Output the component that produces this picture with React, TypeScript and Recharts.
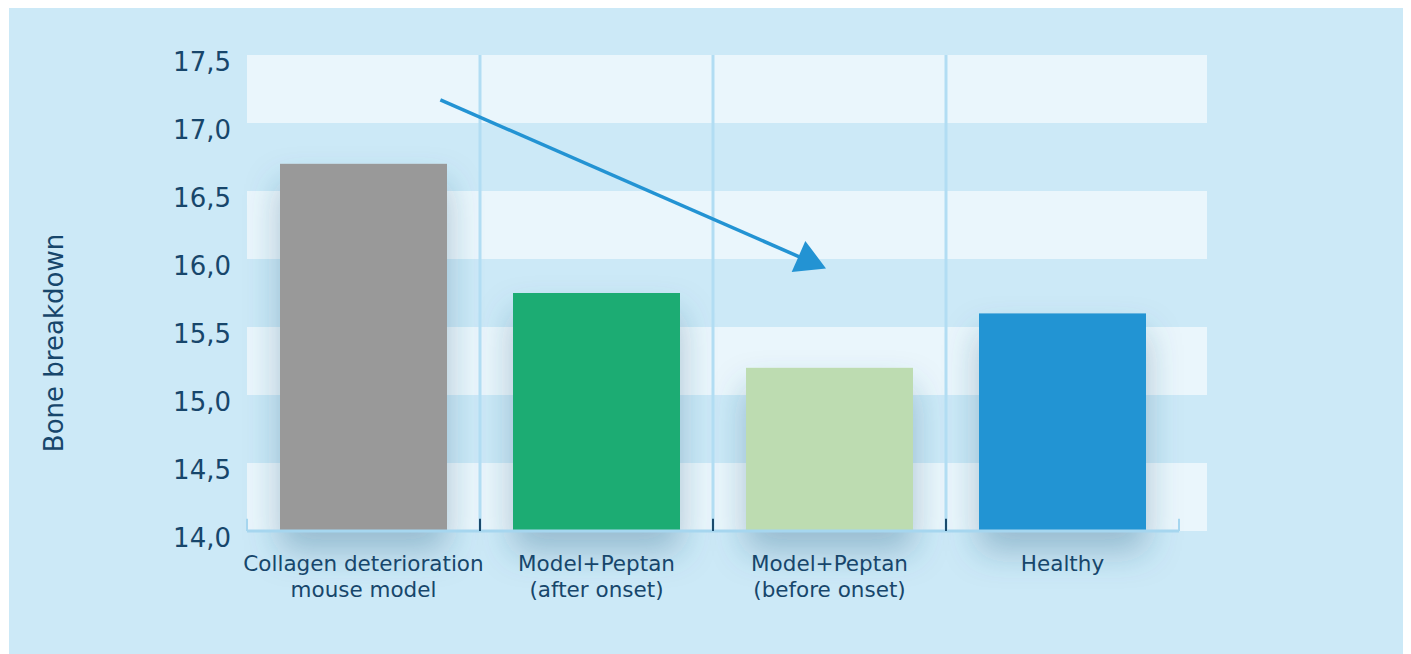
import React from 'react'
import { BarChart, Bar, XAxis, YAxis, CartesianGrid, ReferenceLine, Cell } from 'recharts'

const categories = [
  'Collagen deterioration\nmouse model',
  'Model+Peptan\n(after onset)',
  'Model+Peptan\n(before onset)',
  'Healthy',
]
const values = [16.7, 15.75, 15.2, 15.6]
const barColors = ['#999999', '#1fac73', '#bddcb1', '#2394d3']
const yTicks = [14, 14.5, 15, 15.5, 16, 16.5, 17, 17.5]
const separators = [1, 2, 3]
// trend arrow, in (category-slot, value) units
const arrowFrom = { x: 0.83, y: 17.17 }
const arrowTo = { x: 2.485, y: 15.93 }

// slot = centre of each category in slot units, used by the helper number axis
const data = categories.map((name, i) => ({ name, value: values[i], slot: i + 0.5 }))

const textColor = '#17466b'
const font = '"DejaVu Sans", Verdana, sans-serif'

const YTick = (props: any) => {
  const { x, y, payload } = props
  return (
    <text x={x} y={y} dy={16} textAnchor="end" fill={textColor} fontSize={26} fontFamily={font}>
      {payload.value.toFixed(1).replace('.', ',')}
    </text>
  )
}

const XTick = (props: any) => {
  const { x, y, payload } = props
  const lines = String(payload.value).split('\n')
  return (
    <text x={x} y={y} textAnchor="middle" fill={textColor} fontSize={21.5} fontFamily={font}>
      {lines.map((l, i) => (
        <tspan key={i} x={x} dy={i === 0 ? 40 : 26}>
          {l}
        </tspan>
      ))}
    </text>
  )
}

const YLabel = (props: any) => {
  const { viewBox } = props
  const cx = viewBox.x + 45
  const cy = viewBox.y + viewBox.height / 2 + 50
  return (
    <text
      x={cx}
      y={cy}
      transform={`rotate(-90 ${cx} ${cy})`}
      textAnchor="middle"
      dominantBaseline="central"
      fill={textColor}
      fontSize={26}
      fontFamily={font}
    >
      Bone breakdown
    </text>
  )
}

const ShadowBar = (props: any) => {
  const { x, y, width, height, fill } = props
  return <rect x={x} y={y} width={width} height={height} fill={fill} filter="url(#barShadow)" />
}

const Arrow = (props: any) => {
  const { x1, y1, x2, y2 } = props
  const ang = Math.atan2(y2 - y1, x2 - x1)
  const len = 30
  const half = 17
  const bx = x2 - len * Math.cos(ang)
  const by = y2 - len * Math.sin(ang)
  const px = -Math.sin(ang) * half
  const py = Math.cos(ang) * half
  return (
    <g>
      <line x1={x1} y1={y1} x2={bx + 4 * Math.cos(ang)} y2={by + 4 * Math.sin(ang)} stroke="#2393d3" strokeWidth={3.5} />
      <polygon points={`${x2},${y2} ${bx + px},${by + py} ${bx - px},${by - py}`} fill="#2393d3" />
    </g>
  )
}

export default function App() {
  return (
    <div style={{ marginTop: -3, marginLeft: 1, width: 1396, height: 652, background: '#cce9f7' }}>
      <BarChart
        width={1396}
        height={649}
        data={data}
        margin={{ top: 50, right: 198, bottom: 43, left: 0 }}
      >
        <defs>
          <filter id="barShadow" x="-40%" y="-20%" width="180%" height="170%">
            <feDropShadow dx="0" dy="20" stdDeviation="17" floodColor="#2a5d80" floodOpacity="0.34" />
          </filter>
        </defs>
        <CartesianGrid
          vertical={false}
          stroke="transparent"
          horizontalFill={['#eaf6fc', '#cce9f7']}
          fillOpacity={1}
        />
        <XAxis
          dataKey="name"
          axisLine={false}
          tickLine={false}
          tickSize={0}
          tickMargin={0}
          interval={0}
          height={80}
          padding={{ left: 0, right: 28 }}
          tick={<XTick />}
        />
        <XAxis
          xAxisId="num"
          dataKey="slot"
          type="number"
          domain={[0, 4]}
          allowDataOverflow
          hide
          padding={{ left: 0, right: 28 }}
        />
        <YAxis
          domain={[14, 17.5]}
          ticks={yTicks}
          width={238}
          axisLine={false}
          tickLine={false}
          tickSize={0}
          tickMargin={16}
          tick={<YTick />}
          label={<YLabel />}
        />
        <Bar dataKey="value" barSize={167} isAnimationActive={false} shape={<ShadowBar />}>
          {data.map((d, i) => (
            <Cell key={d.name} fill={barColors[i]} />
          ))}
        </Bar>
        {separators.map((s) => (
          <ReferenceLine key={s} xAxisId="num" x={s} stroke="#b2ddf3" strokeWidth={3} />
        ))}
        <ReferenceLine
          xAxisId="num"
          segment={[{ x: 0, y: 14 }, { x: 4, y: 14 }]}
          stroke="#a6d6ef"
          strokeWidth={3}
        />
        {[0, 4].map((s) => (
          <ReferenceLine
            key={`e${s}`}
            xAxisId="num"
            segment={[{ x: s, y: 14 }, { x: s, y: 14.09 }]}
            stroke="#a6d6ef"
            strokeWidth={2}
          />
        ))}
        {separators.map((s) => (
          <ReferenceLine
            key={`t${s}`}
            xAxisId="num"
            segment={[{ x: s, y: 14 }, { x: s, y: 14.09 }]}
            stroke="#1b4a6d"
            strokeWidth={2}
          />
        ))}
        <ReferenceLine xAxisId="num" segment={[arrowFrom, arrowTo]} shape={<Arrow />} />
      </BarChart>
    </div>
  )
}
